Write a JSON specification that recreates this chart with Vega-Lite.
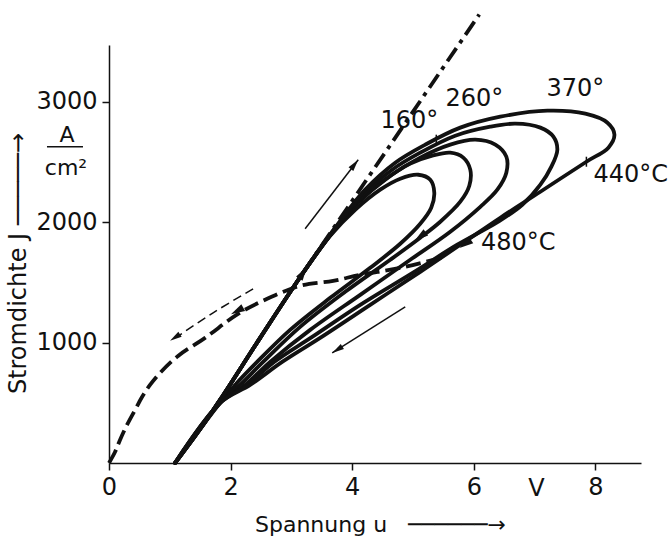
{
  "$schema": "https://vega.github.io/schema/vega-lite/v6.json",
  "width": 532,
  "height": 418,
  "autosize": {"type": "none"},
  "padding": {"left": 109, "top": 45, "right": 31, "bottom": 89},
  "background": "white",
  "config": {
    "view": {"stroke": null},
    "axis": {
      "domainColor": "#111", "domainWidth": 1.5,
      "tickColor": "#111", "tickWidth": 1.5, "tickSize": 7,
      "labelFont": "DejaVu Sans", "labelFontSize": 24, "labelColor": "#111", "labelPadding": 5, "labelFlush": false,
      "titleFont": "DejaVu Sans", "titleFontWeight": "normal", "titleColor": "#111",
      "grid": false
    },
    "text": {"font": "DejaVu Sans", "color": "#111"}
  },
  "datasets": {
    "loops": [
      {"loop":"a","i":0,"u":1.086,"J":0},{"loop":"a","i":1,"u":1.465,"J":258},{"loop":"a","i":2,"u":1.827,"J":524},{"loop":"a","i":3,"u":2.486,"J":1039},{"loop":"a","i":4,"u":3.193,"J":1579},
      {"loop":"a","i":5,"u":3.638,"J":1886},{"loop":"a","i":6,"u":4.049,"J":2102},{"loop":"a","i":7,"u":4.461,"J":2269},{"loop":"a","i":8,"u":4.79,"J":2360},{"loop":"a","i":9,"u":5.086,"J":2393},{"loop":"a","i":10,"u":5.284,"J":2352},{"loop":"a","i":11,"u":5.35,"J":2244},{"loop":"a","i":12,"u":5.3,"J":2119},{"loop":"a","i":13,"u":5.119,"J":1986},{"loop":"a","i":14,"u":4.79,"J":1820},{"loop":"a","i":15,"u":4.296,"J":1620},{"loop":"a","i":16,"u":3.638,"J":1371},{"loop":"a","i":17,"u":2.979,"J":1105},{"loop":"a","i":18,"u":2.436,"J":839},{"loop":"a","i":19,"u":2.074,"J":648},{"loop":"a","i":20,"u":1.827,"J":499},{"loop":"a","i":21,"u":1.086,"J":0},

      {"loop":"b","i":0,"u":1.086,"J":0},{"loop":"b","i":1,"u":1.465,"J":258},{"loop":"b","i":2,"u":1.827,"J":524},{"loop":"b","i":3,"u":2.486,"J":1039},{"loop":"b","i":4,"u":3.193,"J":1579},
      {"loop":"b","i":5,"u":3.654,"J":1903},{"loop":"b","i":6,"u":4.099,"J":2161},{"loop":"b","i":7,"u":4.543,"J":2352},{"loop":"b","i":8,"u":4.955,"J":2485},{"loop":"b","i":9,"u":5.317,"J":2551},{"loop":"b","i":10,"u":5.613,"J":2576},{"loop":"b","i":11,"u":5.827,"J":2535},{"loop":"b","i":12,"u":5.942,"J":2435},{"loop":"b","i":13,"u":5.926,"J":2302},{"loop":"b","i":14,"u":5.778,"J":2169},{"loop":"b","i":15,"u":5.449,"J":2003},{"loop":"b","i":16,"u":5.119,"J":1870},{"loop":"b","i":17,"u":4.626,"J":1687},{"loop":"b","i":18,"u":3.885,"J":1421},{"loop":"b","i":19,"u":3.144,"J":1130},{"loop":"b","i":20,"u":2.535,"J":839},{"loop":"b","i":21,"u":2.156,"J":648},{"loop":"b","i":22,"u":1.827,"J":499},{"loop":"b","i":23,"u":1.086,"J":0},

      {"loop":"c","i":0,"u":1.086,"J":0},{"loop":"c","i":1,"u":1.465,"J":258},{"loop":"c","i":2,"u":1.827,"J":524},{"loop":"c","i":3,"u":2.486,"J":1039},{"loop":"c","i":4,"u":3.193,"J":1579},
      {"loop":"c","i":5,"u":3.671,"J":1911},{"loop":"c","i":6,"u":4.132,"J":2186},{"loop":"c","i":7,"u":4.626,"J":2385},{"loop":"c","i":8,"u":5.119,"J":2535},{"loop":"c","i":9,"u":5.613,"J":2643},{"loop":"c","i":10,"u":6.025,"J":2684},{"loop":"c","i":11,"u":6.354,"J":2643},{"loop":"c","i":12,"u":6.535,"J":2543},{"loop":"c","i":13,"u":6.535,"J":2410},{"loop":"c","i":14,"u":6.387,"J":2269},{"loop":"c","i":15,"u":6.107,"J":2127},{"loop":"c","i":16,"u":5.613,"J":1920},{"loop":"c","i":17,"u":4.955,"J":1687},{"loop":"c","i":18,"u":4.132,"J":1396},{"loop":"c","i":19,"u":3.309,"J":1105},{"loop":"c","i":20,"u":2.65,"J":839},{"loop":"c","i":21,"u":2.239,"J":648},{"loop":"c","i":22,"u":1.827,"J":499},{"loop":"c","i":23,"u":1.086,"J":0},

      {"loop":"d","i":0,"u":1.086,"J":0},{"loop":"d","i":1,"u":1.465,"J":258},{"loop":"d","i":2,"u":1.827,"J":524},{"loop":"d","i":3,"u":2.486,"J":1039},{"loop":"d","i":4,"u":3.193,"J":1579},
      {"loop":"d","i":5,"u":3.687,"J":1928},{"loop":"d","i":6,"u":4.165,"J":2219},{"loop":"d","i":7,"u":4.658,"J":2435},{"loop":"d","i":8,"u":5.119,"J":2576},{"loop":"d","i":9,"u":5.695,"J":2717},{"loop":"d","i":10,"u":6.272,"J":2792},{"loop":"d","i":11,"u":6.683,"J":2817},{"loop":"d","i":12,"u":7.095,"J":2784},{"loop":"d","i":13,"u":7.309,"J":2709},{"loop":"d","i":14,"u":7.374,"J":2601},{"loop":"d","i":15,"u":7.276,"J":2460},{"loop":"d","i":16,"u":7.095,"J":2310},{"loop":"d","i":17,"u":6.798,"J":2144},{"loop":"d","i":18,"u":6.403,"J":2003},{"loop":"d","i":19,"u":5.728,"J":1812},{"loop":"d","i":20,"u":5.021,"J":1587},{"loop":"d","i":21,"u":4.132,"J":1313},{"loop":"d","i":22,"u":3.342,"J":1047},{"loop":"d","i":23,"u":2.716,"J":839},{"loop":"d","i":24,"u":2.272,"J":648},{"loop":"d","i":25,"u":1.827,"J":499},{"loop":"d","i":26,"u":1.086,"J":0},

      {"loop":"e","i":0,"u":1.086,"J":0},{"loop":"e","i":1,"u":1.465,"J":258},{"loop":"e","i":2,"u":1.827,"J":524},{"loop":"e","i":3,"u":2.486,"J":1039},{"loop":"e","i":4,"u":3.193,"J":1579},
      {"loop":"e","i":5,"u":3.72,"J":1953},{"loop":"e","i":6,"u":4.214,"J":2269},{"loop":"e","i":7,"u":4.708,"J":2493},{"loop":"e","i":8,"u":5.202,"J":2643},{"loop":"e","i":9,"u":5.778,"J":2784},{"loop":"e","i":10,"u":6.436,"J":2875},{"loop":"e","i":11,"u":7.21,"J":2925},{"loop":"e","i":12,"u":7.835,"J":2900},{"loop":"e","i":13,"u":8.198,"J":2825},{"loop":"e","i":14,"u":8.313,"J":2726},{"loop":"e","i":15,"u":8.214,"J":2618},{"loop":"e","i":16,"u":7.852,"J":2501},{"loop":"e","i":17,"u":7.095,"J":2252},{"loop":"e","i":18,"u":6.436,"J":2036},{"loop":"e","i":19,"u":5.827,"J":1828},{"loop":"e","i":20,"u":5.119,"J":1587},{"loop":"e","i":21,"u":4.296,"J":1313},{"loop":"e","i":22,"u":3.473,"J":1039},{"loop":"e","i":23,"u":2.848,"J":839},{"loop":"e","i":24,"u":2.321,"J":648},{"loop":"e","i":25,"u":1.827,"J":499},{"loop":"e","i":26,"u":1.086,"J":0}
    ],
    "dashed": [
      {"i":0,"u":0,"J":0},{"i":1,"u":0.099,"J":91},{"i":2,"u":0.181,"J":191},{"i":3,"u":0.296,"J":316},{"i":4,"u":0.428,"J":440},{"i":5,"u":0.543,"J":548},{"i":6,"u":0.675,"J":648},{"i":7,"u":0.84,"J":748},{"i":8,"u":1.136,"J":889},{"i":9,"u":1.58,"J":1039},{"i":10,"u":2.123,"J":1238},{"i":11,"u":2.568,"J":1355},{"i":12,"u":3.144,"J":1471},{"i":13,"u":3.687,"J":1512},{"i":14,"u":4.132,"J":1562},{"i":15,"u":4.79,"J":1620},{"i":16,"u":5.531,"J":1712}
    ],
    "thindashed": [
      {"i":0,"u":2.37,"J":1446},{"i":1,"u":1.712,"J":1247},{"i":2,"u":1.119,"J":1047}
    ],
    "dashdot": [
      {"i":0,"u":3.193,"J":1579},{"i":1,"u":6.09,"J":3723}
    ],
    "thin": [
      {"a":"up","i":0,"u":3.226,"J":1945},{"a":"up","i":1,"u":4.099,"J":2518},
      {"a":"down","i":0,"u":4.872,"J":1296},{"a":"down","i":1,"u":3.671,"J":914}
    ],
    "labels": [
      {"u":4.94,"J":2842,"label":"160°"},
      {"u":6.01,"J":3025,"label":"260°"},
      {"u":7.67,"J":3108,"label":"370°"},
      {"u":8.58,"J":2393,"label":"440°C"},
      {"u":6.73,"J":1828,"label":"480°C"},
      {"u":7.03,"J":-216,"label":"V"}
    ],
    "units": [
      {"u":-0.691,"J":2726,"label":"A"},
      {"u":-0.708,"J":2451,"label":"cm²"}
    ]
  },
  "encoding": {
    "x": {"field": "u", "type": "quantitative",
      "scale": {"domain": [0, 8.75], "nice": false, "zero": false},
      "axis": {"values": [0, 2, 4, 6, 8], "format": "d", "title": "Spannung u\u00a0\u00a0\u00a0──────→",
        "titleFontSize": 22, "titleX": 271, "titleY": 61, "titleBaseline": "middle", "titleAlign": "center"}},
    "y": {"field": "J", "type": "quantitative",
      "scale": {"domain": [0, 3470], "nice": false, "zero": false},
      "axis": {"values": [1000, 2000, 3000], "format": "d", "title": "Stromdichte J ─────→",
        "titleFontSize": 24, "titleX": -91, "titleY": 218, "titleBaseline": "middle", "titleAlign": "center", "titleAngle": -90}}
  },
  "layer": [
    {"data": {"name": "loops"},
     "mark": {"type": "line", "interpolate": "catmull-rom", "strokeWidth": 3.8, "color": "#111", "strokeCap": "round", "strokeJoin": "round"},
     "encoding": {"detail": {"field": "loop"}, "order": {"field": "i", "type": "quantitative"}}},
    {"data": {"name": "dashed"},
     "mark": {"type": "line", "interpolate": "catmull-rom", "strokeWidth": 3.8, "color": "#111", "strokeDash": [15, 6]},
     "encoding": {"order": {"field": "i", "type": "quantitative"}}},
    {"data": {"name": "thindashed"},
     "mark": {"type": "line", "interpolate": "catmull-rom", "strokeWidth": 1.5, "color": "#111", "strokeDash": [9, 5]},
     "encoding": {"order": {"field": "i", "type": "quantitative"}}},
    {"data": {"name": "dashdot"},
     "mark": {"type": "line", "strokeWidth": 3.8, "color": "#111", "strokeDash": [16, 6, 4, 6]},
     "encoding": {"order": {"field": "i", "type": "quantitative"}}},
    {"data": {"name": "thin"},
     "mark": {"type": "line", "strokeWidth": 1.5, "color": "#111"},
     "encoding": {"detail": {"field": "a"}, "order": {"field": "i", "type": "quantitative"}}},
    {"data": {"values": [{"u": 4.099, "J": 2518}]},
     "mark": {"type": "point", "shape": "M0,0L0.5,2L-0.5,2Z", "size": 144, "filled": true, "color": "#111", "opacity": 1, "angle": 37.5}},
    {"data": {"values": [{"u": 3.671, "J": 914}]},
     "mark": {"type": "point", "shape": "M0,0L0.5,2L-0.5,2Z", "size": 144, "filled": true, "color": "#111", "opacity": 1, "angle": 237.8}},
    {"data": {"values": [{"u": 1.004, "J": 1014}]},
     "mark": {"type": "point", "shape": "M0,0L0.5,2L-0.5,2Z", "size": 144, "filled": true, "color": "#111", "opacity": 1, "angle": 236}},
    {"data": {"values": [{"u": 3.193, "J": 1579}]},
     "mark": {"type": "point", "shape": "M0,-1L0.55,1L-0.55,1Z", "size": 196, "filled": true, "color": "#111", "opacity": 1, "angle": 33}},
    {"data": {"values": [{"u": 5.119, "J": 1880}]},
     "mark": {"type": "point", "shape": "M0,-1L0.55,1L-0.55,1Z", "size": 196, "filled": true, "color": "#111", "opacity": 1, "angle": 233}},
    {"data": {"values": [{"u": 5.86, "J": 1818}]},
     "mark": {"type": "point", "shape": "M0,-1L0.55,1L-0.55,1Z", "size": 196, "filled": true, "color": "#111", "opacity": 1, "angle": 236}},
    {"data": {"values": [{"u": 2.107, "J": 1262}]},
     "mark": {"type": "point", "shape": "M0,-1L0.55,1L-0.55,1Z", "size": 196, "filled": true, "color": "#111", "opacity": 1, "angle": 241}},
    {"data": {"values": [{"u": 5.383, "J": 2684}, {"u": 7.852, "J": 2501}]},
     "mark": {"type": "point", "shape": "M0,-1L0,1", "size": 100, "filled": false, "color": "#111", "strokeWidth": 1.5, "opacity": 1}},
    {"data": {"name": "labels"},
     "mark": {"type": "text", "fontSize": 24, "align": "center", "baseline": "middle"},
     "encoding": {"text": {"field": "label"}}},
    {"data": {"name": "units"},
     "mark": {"type": "text", "fontSize": 22, "align": "center", "baseline": "middle"},
     "encoding": {"text": {"field": "label"}}},
    {"data": {"values": [{"u": -1.02, "u2": -0.428, "J": 2626}]},
     "mark": {"type": "rule", "strokeWidth": 1.5, "color": "#111"},
     "encoding": {"x2": {"field": "u2"}}}
  ]
}
